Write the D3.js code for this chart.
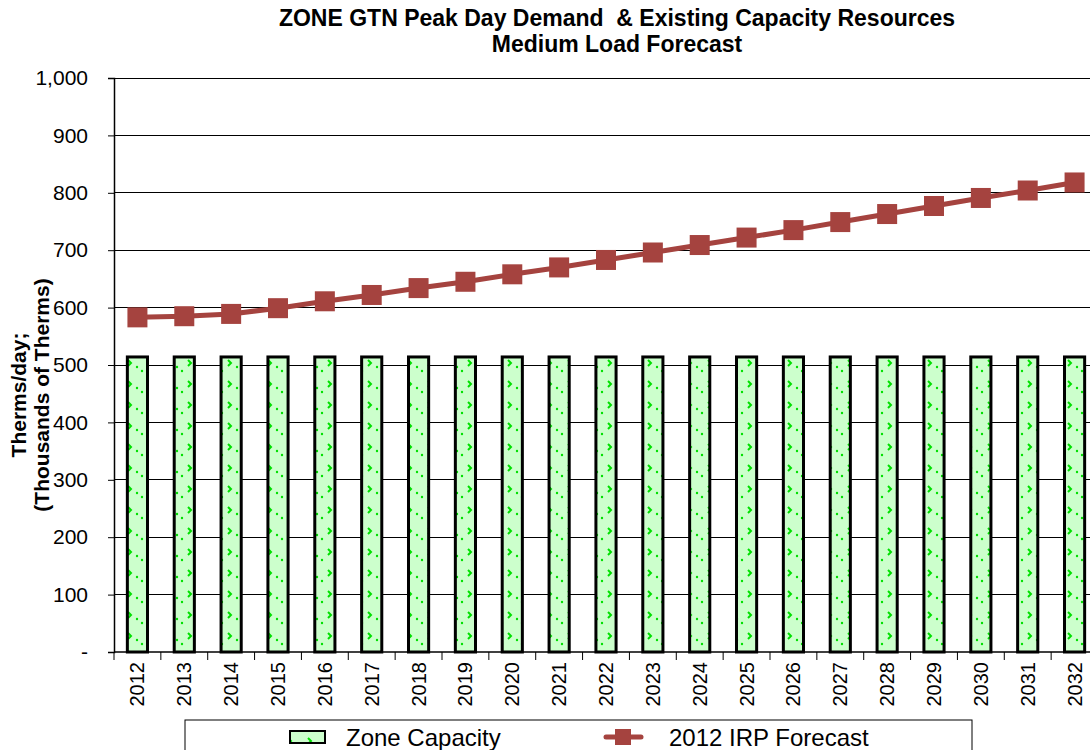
<!DOCTYPE html>
<html>
<head>
<meta charset="utf-8">
<script src="https://cdn.jsdelivr.net/npm/d3@7"></script>
<style>
body { margin: 0; background: #fff; }
text { font-family: "Liberation Sans", Arial, sans-serif; }
</style>
</head>
<body>
<script>
var width = 1090, height = 750;

var years = ["2012","2013","2014","2015","2016","2017","2018","2019","2020","2021","2022",
             "2023","2024","2025","2026","2027","2028","2029","2030","2031","2032"];
var capacity = [514,514,514,514,514,514,514,514,514,514,514,514,514,514,514,514,514,514,514,514,514];
var forecast = [583,585,589,599,611,622,634,645,658,670,683,696,709,722,735,749,763,777,791,804,818];
var yTicks = [0,100,200,300,400,500,600,700,800,900,1000];

var margin = {left: 114, top: 78, right: 1098, bottom: 652};

var svg = d3.select("body").append("svg")
    .attr("width", width)
    .attr("height", height);

// bar fill pattern: pale green with small green marks
var defs = svg.append("defs");
var pat = defs.append("pattern")
    .attr("id", "dots")
    .attr("patternUnits", "userSpaceOnUse")
    .attr("width", 20).attr("height", 21);
pat.append("rect").attr("width", 20).attr("height", 21).attr("fill", "#ccffcc");
pat.append("path").attr("d", "M8,3 l3,3 l-3,3").attr("fill", "none").attr("stroke", "#00e000").attr("stroke-width", 2);
pat.append("circle").attr("cx", 2).attr("cy", 14).attr("r", 1.2).attr("fill", "#00e000");
pat.append("circle").attr("cx", 17).attr("cy", 10).attr("r", 1.2).attr("fill", "#00e000");

var x = d3.scaleBand().domain(years).range([margin.left, margin.right]);
var y = d3.scaleLinear().domain([0, 1000]).range([margin.bottom, margin.top]);

// gridlines
svg.append("g").selectAll("line")
    .data(yTicks.slice(1)).enter().append("line")
    .attr("x1", margin.left).attr("x2", margin.right)
    .attr("y1", function(d) { return y(d); })
    .attr("y2", function(d) { return y(d); })
    .attr("stroke", "#000").attr("stroke-width", 1)
    .attr("shape-rendering", "crispEdges");

// y axis
var yAxis = d3.axisLeft(y).tickValues(yTicks).tickSize(6).tickPadding(20)
    .tickFormat(function(d) { return d === 0 ? "-" : d3.format(",")(d); });
var gy = svg.append("g").attr("transform", "translate(" + margin.left + ",0)").call(yAxis);
gy.select(".domain").attr("stroke", "#000").attr("stroke-width", 1.5);
gy.selectAll(".tick line").attr("stroke", "#000");
gy.selectAll("text").style("font-size", "21px").attr("fill", "#000");

// bars
svg.append("g").selectAll("rect")
    .data(years).enter().append("rect")
    .attr("x", function(d) { return x(d) + x.bandwidth() * 0.285; })
    .attr("width", x.bandwidth() * 0.43)
    .attr("y", function(d, i) { return y(capacity[i]); })
    .attr("height", function(d, i) { return y(0) - y(capacity[i]); })
    .attr("fill", "url(#dots)")
    .attr("stroke", "#000").attr("stroke-width", 3);

// x axis
var gx = svg.append("g").attr("transform", "translate(0," + margin.bottom + ")");
gx.append("line").attr("x1", margin.left).attr("x2", margin.right)
    .attr("stroke", "#000").attr("stroke-width", 1.5);
gx.selectAll(".tk").data(d3.range(years.length + 1)).enter().append("line")
    .attr("x1", function(i) { return margin.left + i * x.step(); })
    .attr("x2", function(i) { return margin.left + i * x.step(); })
    .attr("y1", 0).attr("y2", 8).attr("stroke", "#000");
gx.selectAll("text").data(years).enter().append("text")
    .attr("transform", function(d) { return "translate(" + (x(d) + x.bandwidth() / 2 + 7) + ",10) rotate(-90)"; })
    .attr("text-anchor", "end")
    .style("font-size", "20px")
    .text(function(d) { return d; });

// forecast line
var line = d3.line()
    .x(function(d, i) { return x(years[i]) + x.bandwidth() / 2; })
    .y(function(d) { return y(d); });
svg.append("path").datum(forecast)
    .attr("d", line)
    .attr("fill", "none").attr("stroke", "#a5433f").attr("stroke-width", 5);
svg.append("g").selectAll("rect")
    .data(forecast).enter().append("rect")
    .attr("x", function(d, i) { return x(years[i]) + x.bandwidth() / 2 - 10; })
    .attr("y", function(d) { return y(d) - 10; })
    .attr("width", 20).attr("height", 20)
    .attr("fill", "#a5433f");

// titles
svg.append("text").attr("x", 617).attr("y", 26).attr("text-anchor", "middle")
    .style("font-size", "23px").style("font-weight", "bold").attr("xml:space", "preserve")
    .text("ZONE GTN Peak Day Demand  & Existing Capacity Resources");
svg.append("text").attr("x", 617).attr("y", 52).attr("text-anchor", "middle")
    .style("font-size", "23px").style("font-weight", "bold")
    .text("Medium Load Forecast");

var yl = svg.append("text").attr("transform", "translate(26,395) rotate(-90)")
    .attr("text-anchor", "middle").style("font-size", "21px").style("font-weight", "bold");
yl.append("tspan").attr("x", 0).attr("dy", 0).text("Therms/day;");
yl.append("tspan").attr("x", 0).attr("dy", 23).text("(Thousands of Therms)");

// legend
svg.append("rect").attr("x", 185).attr("y", 720).attr("width", 787).attr("height", 40)
    .attr("fill", "#fff").attr("stroke", "#000").attr("stroke-width", 1);
svg.append("rect").attr("x", 290).attr("y", 731).attr("width", 35).attr("height", 12)
    .attr("fill", "url(#dots)").attr("stroke", "#000").attr("stroke-width", 2);
svg.append("text").attr("x", 346).attr("y", 746).style("font-size", "24px").text("Zone Capacity");
svg.append("line").attr("x1", 606).attr("x2", 641).attr("y1", 737).attr("y2", 737)
    .attr("stroke", "#a5433f").attr("stroke-width", 5).attr("stroke-linecap", "round");
svg.append("rect").attr("x", 615).attr("y", 729).attr("width", 16).attr("height", 16).attr("fill", "#a5433f");
svg.append("text").attr("x", 669).attr("y", 746).style("font-size", "24px").text("2012 IRP Forecast");
</script>
</body>
</html>
